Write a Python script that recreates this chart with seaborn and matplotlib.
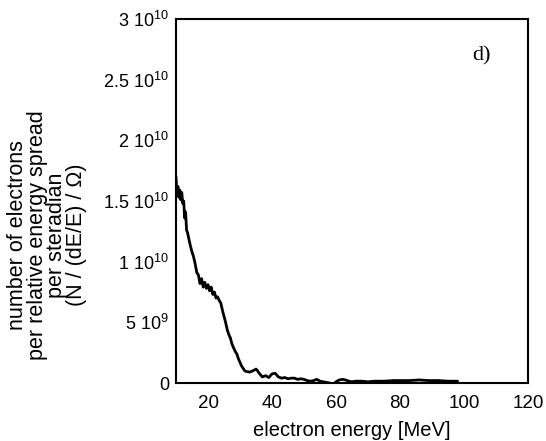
import numpy as np
import pandas as pd
import matplotlib
matplotlib.use("Agg")
import matplotlib.pyplot as plt
import seaborn as sns

# Data (energy in MeV, spectrum in units of 1e9)
energy = [10.0, 10.3, 10.6, 10.9, 11.2, 11.5, 11.8, 12.1, 12.4, 12.7, 13.0, 13.3, 13.6,
          14.0, 14.5, 15.0, 15.5, 16.0, 16.5, 17.0, 17.5, 18.0, 18.5, 19.0, 19.5, 20.0,
          20.5, 21.0, 21.5, 22.0, 22.5, 23.0, 23.5, 24.0, 24.5, 25.0, 25.5, 26.0, 26.5,
          27.0, 27.5, 28.0, 28.5, 29.0, 29.5, 30.0, 30.5, 31.0, 31.5, 32.0, 33.0, 34.0,
          35.0, 35.5, 36.0, 37.0, 38.0, 39.0, 40.0, 41.0, 42.0, 43.0, 44.0, 45.0, 46.0,
          47.0, 48.0, 49.0, 50.0, 51.0, 52.0, 53.0, 54.0, 55.0, 56.0, 57.0, 58.0, 59.0,
          60.0, 61.0, 62.0, 63.0, 64.0, 65.0, 66.0, 68.0, 70.0, 72.0, 75.0, 78.0, 80.0,
          83.0, 86.0, 89.0, 92.0, 95.0, 98.0]
signal = [17.0, 15.6, 16.2, 15.3, 15.9, 15.1, 15.7, 14.8, 15.0, 13.6, 14.1, 12.6, 12.4,
          11.9, 11.3, 10.8, 10.4, 9.8, 9.1, 8.9, 8.2, 8.6, 7.9, 8.3, 7.8, 8.1,
          7.6, 7.9, 7.3, 7.5, 7.0, 7.1, 6.8, 6.6, 6.0, 5.5, 5.0, 4.4, 4.0,
          3.7, 3.2, 2.9, 2.6, 2.4, 2.0, 1.7, 1.4, 1.2, 1.0, 0.95, 0.9, 1.0,
          1.15, 1.0, 0.8, 0.5, 0.6, 0.45, 0.75, 0.8, 0.5, 0.4, 0.45, 0.35, 0.4,
          0.4, 0.3, 0.35, 0.3, 0.2, 0.15, 0.2, 0.3, 0.15, 0.1, 0.05, 0.0, -0.15,
          0.1, 0.25, 0.3, 0.25, 0.15, 0.1, 0.15, 0.15, 0.1, 0.15, 0.15, 0.2, 0.2,
          0.2, 0.25, 0.2, 0.2, 0.15, 0.15]

x_ticks = [20, 40, 60, 80, 100, 120]
y_ticks = [0, 5e9, 1e10, 1.5e10, 2e10, 2.5e10, 3e10]
y_tick_labels = ["0", "5 10$^{9}$", "1 10$^{10}$", "1.5 10$^{10}$", "2 10$^{10}$",
                 "2.5 10$^{10}$", "3 10$^{10}$"]

df = pd.DataFrame({"energy": energy, "value": np.array(signal) * 1e9})

sns.set_theme(style="white")
plt.rcParams["font.family"] = ["Liberation Sans", "DejaVu Sans"]
plt.rcParams["mathtext.fontset"] = "custom"
plt.rcParams["mathtext.rm"] = "Liberation Sans"
plt.rcParams["text.color"] = "black"
plt.rcParams["axes.labelcolor"] = "black"
plt.rcParams["xtick.color"] = "black"
plt.rcParams["ytick.color"] = "black"

fig = plt.figure(figsize=(5.46, 4.41), dpi=100)
ax = fig.add_axes([176 / 546, 1 - 383 / 441, (528 - 176) / 546, (383 - 19) / 441])

sns.lineplot(data=df, x="energy", y="value", ax=ax, color="black", linewidth=2.0)

ax.set_xlim(10, 120)
ax.set_ylim(0, 3e10)
ax.set_xticks(x_ticks)
ax.set_xticklabels([str(t) for t in x_ticks], fontsize=13.5)
ax.set_yticks(y_ticks)
ax.set_yticklabels(y_tick_labels, fontsize=13)
ax.tick_params(axis="y", length=0, pad=5, colors="black")
ax.tick_params(axis="x", length=0, pad=9, colors="black")

for s in ax.spines.values():
    s.set_visible(True)
    s.set_color("black")
    s.set_linewidth(1.5)

ax.set_xlabel("electron energy [MeV]", fontsize=14.5, labelpad=6, color="black")
ax.set_ylabel("")
fig.text(47 / 546, 1 - 235 / 441,
         "number of electrons\nper relative energy spread\nper steradian\n(N / (dE/E) / Ω)",
         rotation=90, ha="center", va="center", fontsize=15.5, linespacing=0.9,
         color="black")

ax.text(0.868, 0.9, "d)", transform=ax.transAxes, fontsize=16,
        family=["Liberation Serif", "DejaVu Serif"], ha="center", va="center",
        color="black")

fig.savefig("out.png", dpi=100, facecolor="white")
